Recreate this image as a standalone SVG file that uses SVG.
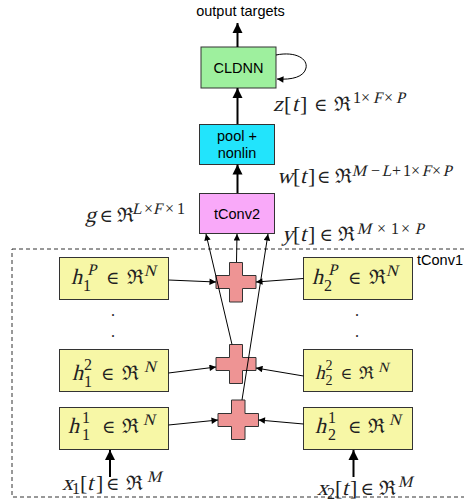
<svg xmlns="http://www.w3.org/2000/svg" width="464" height="500" viewBox="0 0 464 500">
<defs>
<style>
.box{stroke:#333;stroke-width:1}
.s{font-family:"Liberation Sans",Arial,sans-serif;font-size:14.5px;fill:#000}
.m{font-family:"Liberation Serif","DejaVu Serif",serif;font-size:22px;fill:#222}
.u{font-family:"DejaVu Serif","Liberation Serif",serif;fill:#222}
.e{font-size:18px}
.r{font-size:20px}
.p{font-size:16px}
.thick{stroke:#000;stroke-width:2;fill:none}
.thin{stroke:#000;stroke-width:1;fill:none}
.cross{fill:#ee9494;stroke:#333;stroke-width:1}
.yel{fill:#f7f7a6}
</style>
<marker id="ab" viewBox="0 0 10 10" refX="10" refY="5" markerWidth="5" markerHeight="6" markerUnits="strokeWidth" orient="auto"><path d="M0,0 L10,5 L0,10 z" fill="#000"/></marker>
<marker id="as" viewBox="0 0 10 10" refX="10" refY="5" markerWidth="9" markerHeight="6.5" markerUnits="strokeWidth" orient="auto"><path d="M0,0 L10,5 L0,10 z" fill="#000"/></marker>
</defs>
<rect x="12" y="249" width="470" height="248" fill="none" stroke="#333" stroke-width="1" stroke-dasharray="4,3"/>
<text class="s" x="417" y="265">tConv1</text>
<g id="output-targets"><text class="s" x="240.5" y="16" text-anchor="middle">output targets</text></g>
<g id="cldnn"><rect class="box" x="201" y="47" width="75" height="41" fill="#9ef09e"/><text class="s" x="238.5" y="73" text-anchor="middle">CLDNN</text></g>
<g id="pool"><rect class="box" x="199.5" y="124.5" width="75" height="40" fill="#22e4fc"/><text class="s" x="237" y="141" text-anchor="middle">pool +</text><text class="s" x="237" y="158" text-anchor="middle">nonlin</text></g>
<g id="tconv2"><rect class="box" x="199.5" y="193.5" width="75" height="40" fill="#f9a9f9"/><text class="s" x="237" y="218.5" text-anchor="middle">tConv2</text></g>

<g id="h1P"><rect class="box yel" x="59.5" y="257.5" width="109" height="42"/>
<g transform="translate(71,284)"><text class="m" transform="skewX(-14)"><tspan x="0" y="0">h</tspan><tspan class="p" x="14" y="-9">P</tspan><tspan class="p" x="71" y="-8">N</tspan></text><text class="m"><tspan class="p" x="12" y="7">1</tspan></text><text class="u"><tspan class="e" x="35" y="0">∈</tspan><tspan class="r" x="55.5" y="0">ℜ</tspan></text></g></g>
<g id="h2P"><rect class="box yel" x="303.5" y="257.5" width="109" height="42"/>
<g transform="translate(312,284)"><text class="m" transform="skewX(-14)"><tspan x="0" y="0">h</tspan><tspan class="p" x="14" y="-9">P</tspan><tspan class="p" x="72" y="-8">N</tspan></text><text class="m"><tspan class="p" x="12" y="7">2</tspan></text><text class="u"><tspan class="e" x="36" y="0">∈</tspan><tspan class="r" x="56.5" y="0">ℜ</tspan></text></g></g>
<g id="h12"><rect class="box yel" x="59.5" y="349.5" width="109" height="42"/>
<g transform="translate(72,380)"><text class="m" transform="skewX(-14)"><tspan x="0" y="0">h</tspan><tspan class="p" x="70" y="-8">N</tspan></text><text class="m"><tspan class="p" x="12" y="7">1</tspan><tspan class="p" x="12" y="-10">2</tspan></text><text class="u"><tspan class="e" x="29" y="0">∈</tspan><tspan class="r" x="50" y="0">ℜ</tspan></text></g></g>
<g id="h22"><rect class="box yel" x="303.5" y="349.5" width="109" height="42"/>
<g transform="translate(315,379) scale(0.88)"><text class="m" transform="skewX(-14)"><tspan x="0" y="0">h</tspan><tspan class="p" x="70" y="-8">N</tspan></text><text class="m"><tspan class="p" x="12" y="7">2</tspan><tspan class="p" x="12" y="-10">2</tspan></text><text class="u"><tspan class="e" x="29" y="0">∈</tspan><tspan class="r" x="50" y="0">ℜ</tspan></text></g></g>
<g id="h11"><rect class="box yel" x="59.5" y="407.5" width="109" height="42"/>
<g transform="translate(68,433)"><text class="m" transform="skewX(-14)"><tspan x="0" y="0">h</tspan><tspan class="p" x="73" y="-8">N</tspan></text><text class="m"><tspan class="p" x="14" y="7">1</tspan><tspan class="p" x="14" y="-10">1</tspan></text><text class="u"><tspan class="e" x="34" y="0">∈</tspan><tspan class="r" x="54" y="0">ℜ</tspan></text></g></g>
<g id="h21"><rect class="box yel" x="303.5" y="407.5" width="109" height="42"/>
<g transform="translate(315,433)"><text class="m" transform="skewX(-14)"><tspan x="0" y="0">h</tspan><tspan class="p" x="72" y="-8">N</tspan></text><text class="m"><tspan class="p" x="13" y="7">2</tspan><tspan class="p" x="13" y="-10">1</tspan></text><text class="u"><tspan class="e" x="33" y="0">∈</tspan><tspan class="r" x="53" y="0">ℜ</tspan></text></g></g>

<g id="dots" class="m" style="font-size:16px"><text x="113" y="316" text-anchor="middle">.</text><text x="113" y="337" text-anchor="middle">.</text><text x="357" y="316" text-anchor="middle">.</text><text x="357" y="337" text-anchor="middle">.</text></g>

<g id="plusP"><polygon class="cross" points="229.5,262.5 242.5,262.5 242.5,275.5 256,275.5 256,288.5 242.5,288.5 242.5,302 229.5,302 229.5,288.5 216,288.5 216,275.5 229.5,275.5"/></g>
<g id="plus2"><polygon class="cross" points="229.5,344.5 242.5,344.5 242.5,357.5 256,357.5 256,370.5 242.5,370.5 242.5,383.5 229.5,383.5 229.5,370.5 216,370.5 216,357.5 229.5,357.5"/></g>
<g id="plus1"><polygon class="cross" points="231.5,400 245,400 245,413.5 258.5,413.5 258.5,426.5 245,426.5 245,439.5 231.5,439.5 231.5,426.5 218,426.5 218,413.5 231.5,413.5"/></g>

<g id="label-z" transform="translate(273,111)"><text class="m" transform="skewX(-14)"><tspan x="0" y="0">z</tspan><tspan x="19">t</tspan><tspan class="p" x="98" y="-8">F</tspan><tspan class="p" x="121" y="-8">P</tspan></text><text class="m"><tspan x="11" y="0">[</tspan><tspan x="27" y="0">]</tspan><tspan class="p" x="80" y="-8">1</tspan><tspan class="p" x="88" y="-8">×</tspan><tspan class="p" x="111" y="-8">×</tspan></text><text class="u"><tspan class="e" x="41" y="0">∈</tspan><tspan class="r" x="61" y="0">ℜ</tspan></text></g>
<g id="label-w" transform="translate(277,183)"><text class="m" transform="skewX(-14)"><tspan x="0" y="0">w</tspan><tspan x="23">t</tspan><tspan class="p" x="73" y="-7">M</tspan><tspan class="p" x="103" y="-7">L</tspan><tspan class="p" x="143" y="-7">F</tspan><tspan class="p" x="164" y="-7">P</tspan></text><text class="m"><tspan x="16" y="0">[</tspan><tspan x="31" y="0">]</tspan><tspan class="p" x="94" y="-7">−</tspan><tspan class="p" x="115" y="-7">+</tspan><tspan class="p" x="126" y="-7">1</tspan><tspan class="p" x="134" y="-7">×</tspan><tspan class="p" x="155" y="-7">×</tspan></text><text class="u"><tspan class="e" x="40" y="0">∈</tspan><tspan class="r" x="58" y="0">ℜ</tspan></text></g>
<g id="label-g" transform="translate(85,222)"><text class="m" transform="skewX(-14)"><tspan x="0" y="0">g</tspan><tspan class="p" x="45" y="-8">L</tspan><tspan class="p" x="66" y="-8">F</tspan></text><text class="m"><tspan class="p" x="59" y="-8">×</tspan><tspan class="p" x="80" y="-8">×</tspan><tspan class="p" x="92" y="-8">1</tspan></text><text class="u"><tspan class="e" x="14.5" y="0">∈</tspan><tspan class="r" x="31.5" y="0">ℜ</tspan></text></g>
<g id="label-y" transform="translate(282,241)"><text class="m" transform="skewX(-14)"><tspan x="0" y="0">y</tspan><tspan x="18">t</tspan><tspan class="p" x="73" y="-7">M</tspan><tspan class="p" x="131" y="-7">P</tspan></text><text class="m"><tspan x="11" y="0">[</tspan><tspan x="26" y="0">]</tspan><tspan class="p" x="95" y="-7">×</tspan><tspan class="p" x="109" y="-7">1</tspan><tspan class="p" x="119" y="-7">×</tspan></text><text class="u"><tspan class="e" x="37.5" y="0">∈</tspan><tspan class="r" x="56" y="0">ℜ</tspan></text></g>
<g id="label-x1" transform="translate(62,490)"><text class="m" transform="skewX(-14)"><tspan x="0" y="0">x</tspan><tspan x="25">t</tspan><tspan class="p" x="83" y="-8">M</tspan></text><text class="m"><tspan class="p" x="10" y="4">1</tspan><tspan x="18" y="0">[</tspan><tspan x="34" y="0">]</tspan></text><text class="u"><tspan class="e" x="44" y="0">∈</tspan><tspan class="r" x="64" y="0">ℜ</tspan></text></g>
<g id="label-x2" transform="translate(317,495)"><text class="m" transform="skewX(-14)"><tspan x="0" y="0">x</tspan><tspan x="25">t</tspan><tspan class="p" x="79" y="-8">M</tspan></text><text class="m"><tspan class="p" x="10" y="4">2</tspan><tspan x="18" y="0">[</tspan><tspan x="33" y="0">]</tspan></text><text class="u"><tspan class="e" x="43.5" y="0">∈</tspan><tspan class="r" x="62" y="0">ℜ</tspan></text></g>

<g id="connectors">
<line class="thick" x1="237.5" y1="47" x2="237.5" y2="23" marker-end="url(#ab)"/>
<line class="thick" x1="237.5" y1="124" x2="237.5" y2="88" marker-end="url(#ab)"/>
<line class="thick" x1="237.5" y1="193" x2="237.5" y2="164.5" marker-end="url(#ab)"/>
<line class="thick" x1="110" y1="477" x2="110" y2="450" marker-end="url(#ab)"/>
<line class="thick" x1="353.5" y1="477" x2="353.5" y2="450" marker-end="url(#ab)"/>
<path class="thin" d="M276,55 C296,51 308,59 306,68 C304,77 292,80 277,79" stroke-width="1.2" marker-end="url(#as)"/>
<line class="thin" x1="236.5" y1="262" x2="237" y2="234" marker-end="url(#as)"/>
<line class="thin" x1="232" y1="344.5" x2="206" y2="234" marker-end="url(#as)"/>
<line class="thin" x1="242" y1="400" x2="268" y2="234" marker-end="url(#as)"/>
<line class="thin" x1="168.5" y1="280" x2="216" y2="282" marker-end="url(#as)"/>
<line class="thin" x1="303.5" y1="278.5" x2="256" y2="282" marker-end="url(#as)"/>
<line class="thin" x1="168.5" y1="373" x2="216" y2="367" marker-end="url(#as)"/>
<line class="thin" x1="303.5" y1="376" x2="256" y2="368" marker-end="url(#as)"/>
<line class="thin" x1="168.5" y1="425" x2="218" y2="420" marker-end="url(#as)"/>
<line class="thin" x1="303.5" y1="424" x2="258.5" y2="420" marker-end="url(#as)"/>
</g>
</svg>
